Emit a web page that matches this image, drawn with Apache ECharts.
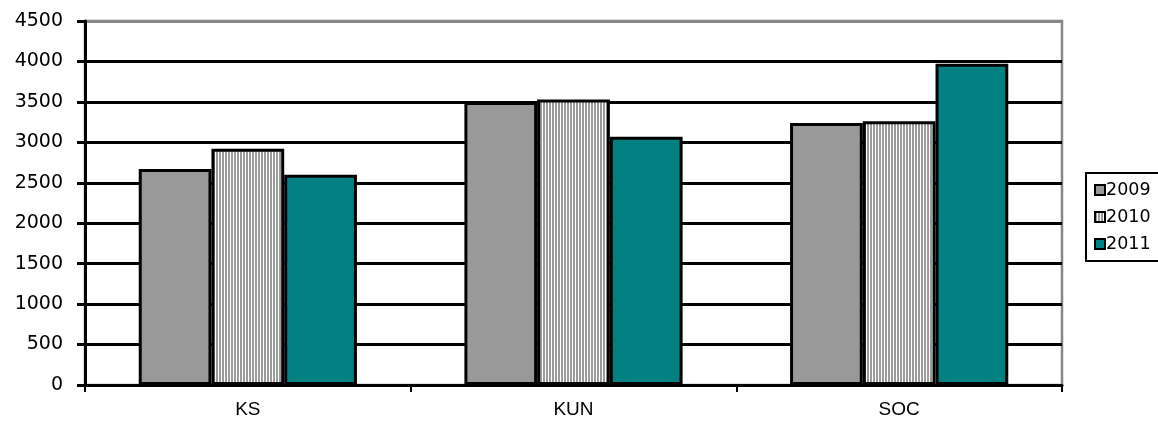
<!DOCTYPE html>
<html>
<head>
<meta charset="utf-8">
<script src="https://cdn.jsdelivr.net/npm/echarts@6/dist/echarts.min.js"></script>
<style>
  html, body { margin: 0; padding: 0; background: #fff; }
  #chart { width: 1158px; height: 423px; }
</style>
</head>
<body>
<div id="chart"></div>
<script>
const categories = ['KS', 'KUN', 'SOC'];
const years = ['2009', '2010', '2011'];
const values2009 = [2670, 3500, 3240];
const values2010 = [2920, 3530, 3260];
const values2011 = [2600, 3070, 3970];
const yTicks = { min: 0, max: 4500, interval: 500 };

// vertical stripe fill for the 2010 series
function stripePattern() {
  const c = document.createElement('canvas');
  c.width = 3; c.height = 3;
  const g = c.getContext('2d');
  g.fillStyle = '#ffffff';
  g.fillRect(0, 0, 3, 3);
  g.fillStyle = '#9a9a9a';
  g.fillRect(0, 0, 2, 3);
  return c;
}

const SANS = '"Liberation Sans", Arial, sans-serif';
const WIDE = '"DejaVu Sans", Verdana, sans-serif';
const border = { borderColor: '#000', borderWidth: 3 };

const chart = echarts.init(document.getElementById('chart'), null, { renderer: 'canvas' });

// grid lines: black, except the top one at 4500 which is grey
const lineColors = [];
for (let v = yTicks.min; v <= yTicks.max; v += yTicks.interval) {
  lineColors.push(v === yTicks.max ? '#888888' : '#000000');
}

const seriesData = [values2009, values2010, values2011];
const fills = ['#999999', { image: stripePattern(), repeat: 'repeat' }, '#008080'];

chart.setOption({
  animation: false,
  backgroundColor: '#fff',
  textStyle: { fontFamily: SANS },
  grid: {
    left: 85, right: 96, top: 21, bottom: 38,
    show: true, borderColor: '#888888', borderWidth: 2.5, backgroundColor: 'transparent'
  },
  legend: {
    orient: 'vertical',
    left: 1086, top: 173,
    data: years,
    icon: 'rect',
    itemWidth: 10, itemHeight: 10,
    itemGap: 9,
    padding: [8, 10, 8, 8],
    borderColor: '#000', borderWidth: 2,
    itemStyle: { borderColor: '#000', borderWidth: 2 },
    textStyle: { fontFamily: WIDE, fontSize: 17.5, color: '#000', lineHeight: 16, padding: [0, 0, 0, -4] }
  },
  xAxis: {
    type: 'category',
    data: categories,
    axisLine: { lineStyle: { color: '#000', width: 3 } },
    axisTick: { show: true, length: 7, lineStyle: { color: '#000', width: 2 } },
    axisLabel: { color: '#000', fontSize: 19, fontFamily: SANS, margin: 15 },
    splitLine: { show: false }
  },
  yAxis: {
    type: 'value',
    min: yTicks.min, max: yTicks.max, interval: yTicks.interval,
    axisLine: { show: true, lineStyle: { color: '#000', width: 3 } },
    axisTick: { show: true, length: 8, lineStyle: { color: '#000', width: 3 } },
    axisLabel: {
      color: '#000', fontSize: 19, fontFamily: WIDE, margin: 22,
      formatter: v => String(v)
    },
    splitLine: { show: true, lineStyle: { color: lineColors, width: 3 } }
  },
  series: years.map((y, i) => ({
    name: y,
    type: 'bar',
    data: seriesData[i],
    barGap: '0%',
    barCategoryGap: '33%',
    itemStyle: Object.assign({ color: fills[i] }, border)
  }))
});
</script>
</body>
</html>
